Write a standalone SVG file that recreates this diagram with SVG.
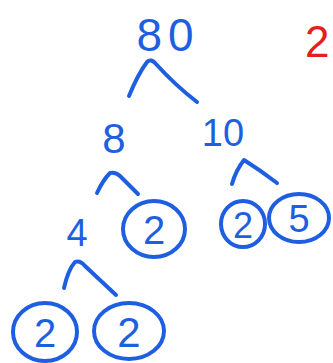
<svg xmlns="http://www.w3.org/2000/svg" width="333" height="363" viewBox="0 0 333 363">
  <style>
    .ink { fill: none; stroke: #1d5fe0; stroke-width: 4; stroke-linecap: round; stroke-linejoin: round; }
    .num { fill: #1d5fe0; font-family: "Liberation Sans", "DejaVu Sans", sans-serif; text-anchor: middle; }
    .red { fill: #e3201c; font-family: "Liberation Sans", "DejaVu Sans", sans-serif; }
  </style>
  <rect width="333" height="363" fill="#ffffff"/>

  <!-- branches of the factor tree -->
  <g id="connectors" class="ink">
    <path d="M129,96 Q138,74 147,62 Q151,58 156,64 Q175,85 197,102"/>
    <path d="M97,193 Q103,180 110,173 Q116,172 120,176 L138,194"/>
    <path d="M232,184 Q236,170 244,160 Q260,170 277,183"/>
    <path d="M64,288 Q68,270 75,262 Q80,260 85,266 L116,295"/>
  </g>

  <g id="n80"><text class="num" x="168" y="51" font-size="46" letter-spacing="6">80</text></g>
  <g id="n8"><text class="num" x="114" y="153" font-size="42">8</text></g>
  <g id="n10"><text class="num" x="223" y="146" font-size="38">10</text></g>
  <g id="n4"><text class="num" x="77" y="246" font-size="38">4</text></g>

  <g id="p2a">
    <ellipse class="ink" cx="154" cy="229" rx="31" ry="28"/>
    <text class="num" x="154" y="244" font-size="40">2</text>
  </g>
  <g id="p2b">
    <ellipse class="ink" cx="243" cy="224" rx="22" ry="23"/>
    <text class="num" x="243" y="238" font-size="36">2</text>
  </g>
  <g id="p5">
    <ellipse class="ink" cx="299" cy="218" rx="30" ry="24"/>
    <text class="num" x="299" y="232" font-size="38">5</text>
  </g>
  <g id="p2c">
    <ellipse class="ink" cx="45" cy="332" rx="32" ry="29"/>
    <text class="num" x="45" y="347" font-size="40">2</text>
  </g>
  <g id="p2d">
    <ellipse class="ink" cx="129" cy="331" rx="35" ry="28"/>
    <text class="num" x="129" y="347" font-size="42">2</text>
  </g>

  <g id="note"><text class="red" x="305" y="57" font-size="44">2</text></g>
</svg>
